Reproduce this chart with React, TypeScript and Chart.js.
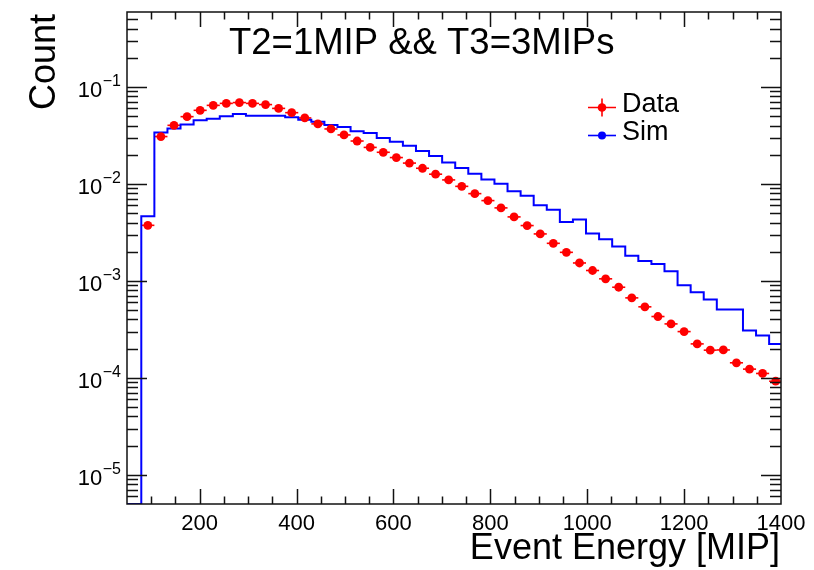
import React, { useEffect, useRef } from "react";
import { Chart, registerables } from "chart.js";

Chart.register(...registerables);

// Bin centres of the energy histogram [MIP]
const energyCenters = [
  93, 120, 147, 174, 201, 228, 255, 282, 309, 336, 363, 390, 417, 444, 471, 498, 525,
  552, 579, 606, 633, 660, 687, 714, 741, 768, 795, 822, 849, 876, 903, 930, 957, 984,
  1011, 1038, 1065, 1092, 1119, 1146, 1173, 1200, 1227, 1254, 1281, 1308, 1335, 1362, 1389,
];

// Data (red points)
const dataCounts = [
  0.00374, 0.0308, 0.0402, 0.0494, 0.0574, 0.0646, 0.0677, 0.069, 0.0677, 0.0658,
  0.0601, 0.0543, 0.0479, 0.0416, 0.0369, 0.032, 0.0277, 0.0238, 0.0212, 0.0187,
  0.0164, 0.0145, 0.0126, 0.011, 0.00944, 0.00794, 0.00673, 0.00566, 0.00457, 0.00372,
  0.00305, 0.00244, 0.00197, 0.00153, 0.00128, 0.00105, 0.00086, 0.000668, 0.00054,
  0.000429, 0.00036, 0.0003, 0.000224, 0.000193, 0.000194, 0.000143, 0.000123,
  0.000111, 0.0000923,
];

// Simulation (blue histogram)
const simCounts = [
  0.00463, 0.034, 0.0372, 0.0409, 0.0453, 0.0471, 0.05, 0.0527, 0.0506, 0.0506,
  0.0506, 0.0486, 0.0458, 0.0439, 0.0404, 0.0387, 0.035, 0.0336, 0.0297, 0.0273,
  0.0248, 0.0219, 0.0194, 0.0166, 0.0146, 0.0127, 0.0111, 0.01002, 0.00839, 0.00757,
  0.00604, 0.00543, 0.00404, 0.00429, 0.00308, 0.00269, 0.00226, 0.00182, 0.0016,
  0.00149, 0.00126, 0.000899, 0.000762, 0.000641, 0.000506, 0.000506, 0.000307,
  0.000273, 0.000224,
];

const xTickValues = [200, 400, 600, 800, 1000, 1200, 1400];
const yDecadeExponents = [-5, -4, -3, -2, -1];
const titleText = "T2=1MIP && T3=3MIPs";
const xTitleText = "Event Energy [MIP]";
const yTitleText = "Count";
const legendLabels = ["Data", "Sim"];

const X_MIN = 50;
const X_MAX = 1400;
const Y_MIN = 5e-6;
const Y_MAX = 0.593;
const BIN_WIDTH = 27;

const FONT = '"Liberation Sans", Arial, Helvetica, sans-serif';
const RED = "#ff0000";
const BLUE = "#0000ff";

const rootStyle = {
  id: "rootStyle",
  beforeDraw(chart: any) {
    const { ctx } = chart;
    ctx.save();
    ctx.fillStyle = "#ffffff";
    ctx.fillRect(0, 0, chart.width, chart.height);
    ctx.restore();
  },
  beforeDatasetsDraw(chart: any) {
    const { ctx, chartArea: a, scales } = chart;
    const xs = scales.x;
    const ys = scales.y;
    ctx.save();
    ctx.beginPath();
    ctx.rect(a.left, a.top, a.right - a.left, a.bottom - a.top);
    ctx.clip();
    ctx.strokeStyle = RED;
    ctx.lineWidth = 1.6;
    for (let i = 0; i < energyCenters.length; i++) {
      const x0 = xs.getPixelForValue(energyCenters[i] - BIN_WIDTH / 2);
      const x1 = xs.getPixelForValue(energyCenters[i] + BIN_WIDTH / 2);
      const py = ys.getPixelForValue(dataCounts[i]);
      ctx.beginPath();
      ctx.moveTo(x0, py);
      ctx.lineTo(x1, py);
      ctx.stroke();
    }
    ctx.restore();
  },
  afterDraw(chart: any) {
    const { ctx, chartArea: a, scales } = chart;
    const xs = scales.x;
    const ys = scales.y;
    ctx.save();
    ctx.strokeStyle = "#111";
    ctx.lineWidth = 1.5;

    // ticks on x (bottom and top), inward
    ctx.beginPath();
    for (let v = 100; v < X_MAX; v += 50) {
      const px = Math.round(xs.getPixelForValue(v)) + 0.5;
      const len = v % 200 === 0 ? 15 : 7.5;
      ctx.moveTo(px, a.bottom);
      ctx.lineTo(px, a.bottom - len);
      ctx.moveTo(px, a.top);
      ctx.lineTo(px, a.top + len);
    }
    // ticks on y (left and right)
    for (let e = -6; e <= 0; e++) {
      for (let m = 1; m <= 9; m++) {
        const v = m * Math.pow(10, e);
        if (v <= Y_MIN * 1.0001 || v >= Y_MAX) continue;
        const py = Math.round(ys.getPixelForValue(v)) + 0.5;
        const len = m === 1 ? 20 : 11;
        ctx.moveTo(a.left, py);
        ctx.lineTo(a.left + len, py);
        ctx.moveTo(a.right, py);
        ctx.lineTo(a.right - len, py);
      }
    }
    ctx.stroke();

    // frame
    ctx.strokeRect(a.left, a.top, a.right - a.left, a.bottom - a.top);

    ctx.fillStyle = "#000";
    // x tick labels
    ctx.font = `22px ${FONT}`;
    ctx.textAlign = "center";
    ctx.textBaseline = "alphabetic";
    for (const v of xTickValues) {
      ctx.fillText(String(v), xs.getPixelForValue(v), 530);
    }
    // y tick labels 10^e
    for (const e of yDecadeExponents) {
      const py = ys.getPixelForValue(Math.pow(10, e));
      const sup = "\u2212" + Math.abs(e);
      ctx.font = `16px ${FONT}`;
      ctx.textAlign = "right";
      const supW = ctx.measureText(sup).width;
      ctx.fillText(sup, 121, py - 1);
      ctx.font = `22px ${FONT}`;
      ctx.fillText("10", 121 - supW - 0.5, py + 10);
    }

    // axis titles
    ctx.font = `36px ${FONT}`;
    ctx.textAlign = "right";
    ctx.fillText(xTitleText, a.right - 1, 559);
    ctx.save();
    ctx.translate(55, a.top + 2);
    ctx.rotate(-Math.PI / 2);
    ctx.textAlign = "right";
    ctx.fillText(yTitleText, 0, 0);
    ctx.restore();

    // title
    ctx.font = `36.5px ${FONT}`;
    ctx.textAlign = "left";
    ctx.fillText(titleText, 229, 54);

    // legend
    const lx0 = 588, lx1 = 616, lxc = 602;
    const ly1 = 107.5, ly2 = 135.5;
    ctx.lineWidth = 1.6;
    ctx.strokeStyle = RED;
    ctx.beginPath();
    ctx.moveTo(lx0, ly1);
    ctx.lineTo(lx1, ly1);
    ctx.moveTo(lxc, ly1 - 9);
    ctx.lineTo(lxc, ly1 + 9);
    ctx.stroke();
    ctx.fillStyle = RED;
    ctx.beginPath();
    ctx.arc(lxc, ly1, 4.3, 0, Math.PI * 2);
    ctx.fill();
    ctx.strokeStyle = BLUE;
    ctx.beginPath();
    ctx.moveTo(lx0, ly2);
    ctx.lineTo(lx1, ly2);
    ctx.stroke();
    ctx.fillStyle = BLUE;
    ctx.beginPath();
    ctx.arc(lxc, ly2, 4, 0, Math.PI * 2);
    ctx.fill();
    ctx.fillStyle = "#000";
    ctx.font = `27px ${FONT}`;
    ctx.textAlign = "left";
    ctx.fillText(legendLabels[0], 622, 111.5);
    ctx.fillText(legendLabels[1], 622, 140);
    ctx.restore();
  },
};

export default function App() {
  const canvasRef = useRef<HTMLCanvasElement | null>(null);

  useEffect(() => {
    document.body.style.margin = "0";
    const canvas = canvasRef.current;
    if (!canvas) return;

    // histogram outline: start on the bottom edge, then one step per bin
    const simPoints: { x: number; y: number }[] = [{ x: X_MIN, y: Y_MIN }];
    for (let i = 0; i < energyCenters.length; i++) {
      simPoints.push({ x: energyCenters[i] - BIN_WIDTH / 2, y: Y_MIN });
      simPoints[simPoints.length - 1].y = simCounts[i];
    }
    const last = energyCenters.length - 1;
    simPoints.push({ x: energyCenters[last] + BIN_WIDTH / 2, y: simCounts[last] });

    const dataPoints = energyCenters.map((x, i) => ({ x, y: dataCounts[i] }));

    const chart = new Chart(canvas, {
      type: "scatter",
      data: {
        datasets: [
          {
            label: legendLabels[0],
            data: dataPoints,
            showLine: false,
            pointRadius: 4.4,
            pointBackgroundColor: RED,
            pointBorderWidth: 0,
            pointBorderColor: RED,
          },
          {
            label: legendLabels[1],
            data: simPoints,
            showLine: true,
            stepped: "before",
            borderColor: BLUE,
            borderWidth: 2,
            pointRadius: 0,
            fill: false,
          } as any,
        ],
      },
      options: {
        animation: false,
        responsive: false,
        events: [],
        layout: { padding: { left: 127, top: 12, right: 33, bottom: 66 } },
        plugins: { legend: { display: false }, tooltip: { enabled: false }, title: { display: false } },
        scales: {
          x: { type: "linear", min: X_MIN, max: X_MAX, display: false },
          y: { type: "logarithmic", min: Y_MIN, max: Y_MAX, display: false },
        },
      },
      plugins: [rootStyle],
    });
    return () => chart.destroy();
  }, []);

  return (
    <div style={{ width: 814, height: 570 }}>
      <canvas ref={canvasRef} width={814} height={570} style={{ display: "block" }} />
    </div>
  );
}
